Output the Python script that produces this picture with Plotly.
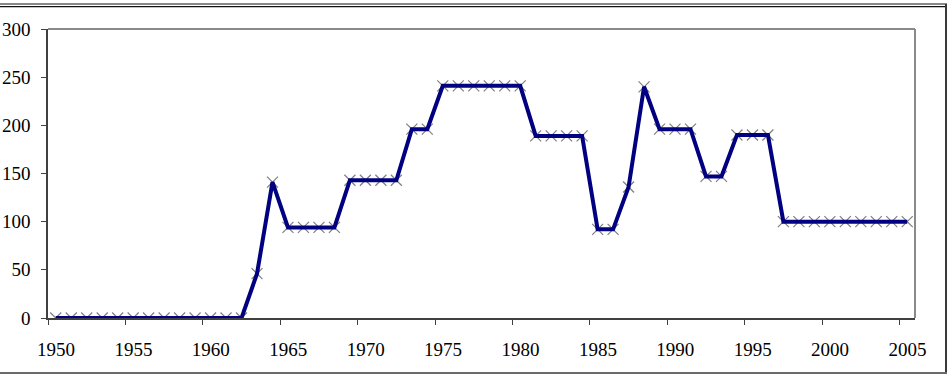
import plotly.graph_objects as go

years = list(range(1950, 2006))
values = ([0] * 13 + [46, 141] + [94] * 4 + [143] * 4 + [196] * 2 + [241] * 6
          + [189] * 4 + [92] * 2 + [136, 240] + [196] * 3 + [147] * 2 + [190] * 3 + [100] * 9)
tick_labels = [str(y) for y in range(1950, 2006, 5)]
y_ticks = [0, 50, 100, 150, 200, 250, 300]

W, H = 951, 376
ML, MR, MT, MB = 48, 36, 29, 58
PW, PH = W - ML - MR, H - MT - MB


def xp(px):
    return (px - ML) / PW


def yp(py):
    return (H - MB - py) / PH


FONT = dict(family="Times New Roman, Liberation Serif, serif", size=19, color="#000000")

fig = go.Figure()
fig.add_trace(go.Scatter(
    x=years, y=values, mode="markers",
    marker=dict(symbol="x-thin", size=11, line=dict(width=1.2, color="#7f7f7f")),
    hoverinfo="skip", showlegend=False))
fig.add_trace(go.Scatter(
    x=years, y=values, mode="lines",
    line=dict(color="#000080", width=4),
    showlegend=False))

half_cat = int(round(PW / len(years) / 2))
fig.update_xaxes(
    range=[years[0] - 0.5, years[-1] + 0.5],
    tickvals=[y - 0.5 for y in range(1950, 2006, 5)],
    ticktext=tick_labels,
    ticklabelshift=half_cat,
    ticks="outside", ticklen=5, tickwidth=1, tickcolor="#404040",
    showline=True, linecolor="#404040", linewidth=1.5,
    showgrid=False, zeroline=False, tickfont=FONT,
    ticklabelstandoff=8, automargin=False)
fig.update_yaxes(
    range=[0, 300], tickvals=y_ticks,
    ticks="outside", ticklen=5, tickwidth=1, tickcolor="#404040",
    showline=True, linecolor="#404040", linewidth=1.5,
    showgrid=False, zeroline=False, tickfont=FONT,
    ticklabelstandoff=7, automargin=False)

shapes = [
    # plot area border (top, right)
    dict(type="line", xref="paper", yref="paper", x0=0, x1=1, y0=1, y1=1,
         line=dict(color="#8a8a8a", width=2)),
    dict(type="line", xref="paper", yref="paper", x0=1, x1=1, y0=0, y1=1,
         line=dict(color="#8a8a8a", width=2)),
    # outer frame
    dict(type="line", xref="paper", yref="paper", x0=xp(-5), x1=xp(947), y0=yp(4), y1=yp(4),
         line=dict(color="#111111", width=1.2)),
    dict(type="line", xref="paper", yref="paper", x0=xp(-5), x1=xp(946), y0=yp(6.7), y1=yp(6.7),
         line=dict(color="#111111", width=1.2)),
    dict(type="line", xref="paper", yref="paper", x0=xp(946), x1=xp(946), y0=yp(4), y1=yp(374),
         line=dict(color="#3a3a3a", width=2)),
    dict(type="line", xref="paper", yref="paper", x0=xp(-5), x1=xp(947), y0=yp(373), y1=yp(373),
         line=dict(color="#6a6a6a", width=2)),
]

fig.update_layout(
    width=W, height=H,
    margin=dict(l=ML, r=MR, t=MT, b=MB, pad=0, autoexpand=False),
    paper_bgcolor="white", plot_bgcolor="white",
    shapes=shapes, font=FONT, showlegend=False)

fig.write_html("out.html", config={"displayModeBar": False})
